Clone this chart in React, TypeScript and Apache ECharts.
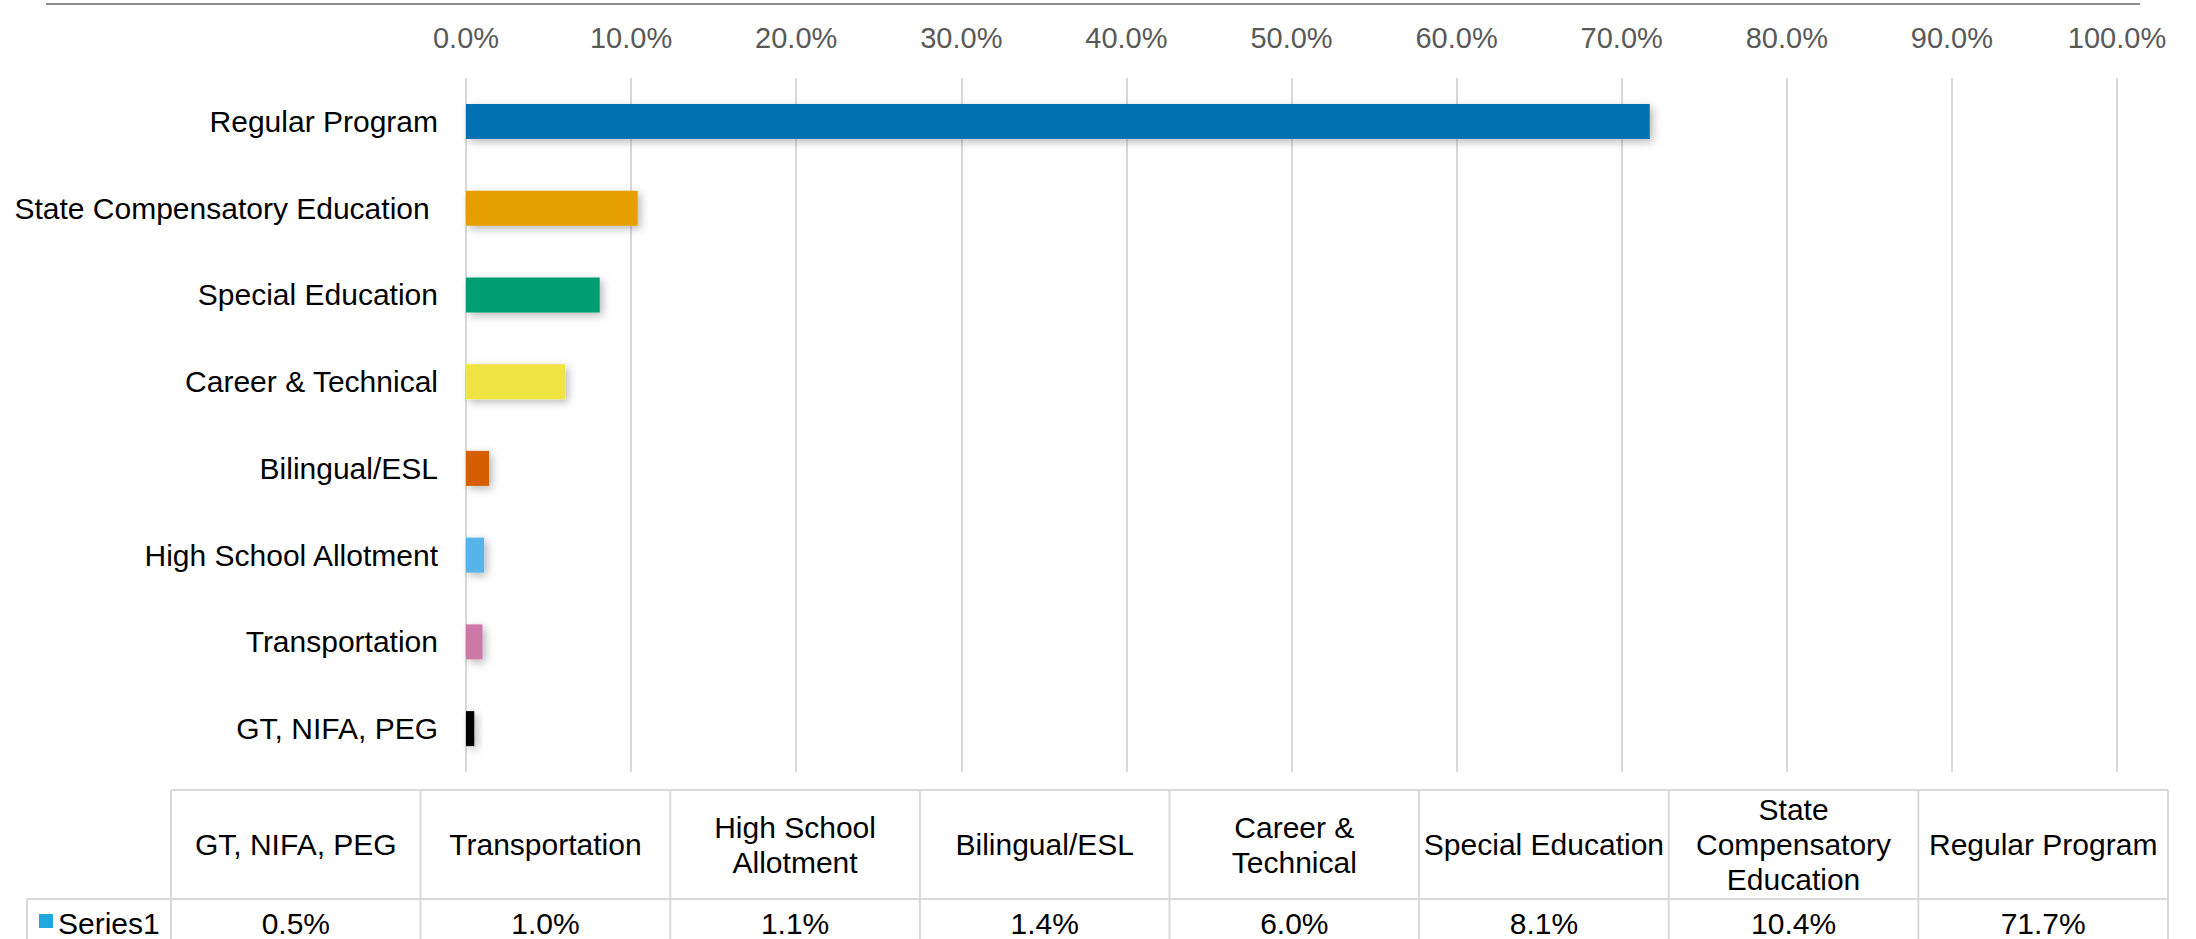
import React, { useEffect, useRef } from "react";
import * as echarts from "echarts";

const categories = [
  "GT, NIFA, PEG",
  "Transportation",
  "High School Allotment",
  "Bilingual/ESL",
  "Career & Technical",
  "Special Education",
  "State Compensatory Education ",
  "Regular Program",
];
const values = [0.5, 1.0, 1.1, 1.4, 6.0, 8.1, 10.4, 71.7];
const barColors = [
  "#000000",
  "#CC79A7",
  "#56B4E9",
  "#D55E00",
  "#F0E442",
  "#009E73",
  "#E69F00",
  "#0072B2",
];
const tableHeaders = [
  "GT, NIFA, PEG",
  "Transportation",
  "High School\nAllotment",
  "Bilingual/ESL",
  "Career &\nTechnical",
  "Special Education",
  "State\nCompensatory\nEducation",
  "Regular Program",
];
const seriesName = "Series1";

const FONT = "'Liberation Sans', Arial, sans-serif";

export default function App() {
  const ref = useRef<HTMLDivElement>(null);
  useEffect(() => {
    if (!ref.current) return;
    const chart = echarts.init(ref.current, undefined, { renderer: "svg" });

    const tableLeft = 171;
    const tableRight = 2168;
    const colW = (tableRight - tableLeft) / categories.length;
    const tableTop = 790;
    const rowDiv = 899;
    const tableBottom = 945;
    const lineStyle = { stroke: "#d9d9d9", lineWidth: 2 };

    const graphics: any[] = [];
    graphics.push({
      type: "line",
      shape: { x1: 46, y1: 4, x2: 2140, y2: 4 },
      style: { stroke: "#8c8c8c", lineWidth: 2 },
      silent: true,
    });
    graphics.push({
      type: "line",
      shape: { x1: tableLeft, y1: tableTop, x2: tableRight, y2: tableTop },
      style: lineStyle,
    });
    graphics.push({
      type: "line",
      shape: { x1: 27, y1: rowDiv, x2: tableRight, y2: rowDiv },
      style: lineStyle,
    });
    graphics.push({
      type: "line",
      shape: { x1: 27, y1: rowDiv, x2: 27, y2: tableBottom },
      style: lineStyle,
    });
    for (let i = 0; i <= categories.length; i++) {
      const x = tableLeft + i * colW;
      graphics.push({
        type: "line",
        shape: { x1: x, y1: tableTop, x2: x, y2: tableBottom },
        style: lineStyle,
      });
    }
    tableHeaders.forEach((h, i) => {
      graphics.push({
        type: "text",
        x: tableLeft + (i + 0.5) * colW,
        y: (tableTop + rowDiv) / 2,
        style: {
          text: h,
          fill: "#000",
          font: `30px ${FONT}`,
          align: "center",
          verticalAlign: "middle",
          lineHeight: 35,
        },
      });
      graphics.push({
        type: "text",
        x: tableLeft + (i + 0.5) * colW,
        y: 923,
        style: {
          text: values[i].toFixed(1) + "%",
          fill: "#000",
          font: `30px ${FONT}`,
          align: "center",
          verticalAlign: "middle",
        },
      });
    });
    graphics.push({
      type: "rect",
      shape: { x: 39, y: 914, width: 14, height: 14 },
      style: { fill: "#1FA8E0" },
    });
    graphics.push({
      type: "text",
      x: 58,
      y: 923,
      style: {
        text: seriesName,
        fill: "#000",
        font: `30px ${FONT}`,
        align: "left",
        verticalAlign: "middle",
      },
    });

    chart.setOption({
      animation: false,
      backgroundColor: "#ffffff",
      grid: { left: 466, right: 79, top: 78, bottom: 167, containLabel: false },
      xAxis: {
        type: "value",
        position: "top",
        min: 0,
        max: 100,
        interval: 10,
        axisLine: { show: false },
        axisTick: { show: false },
        axisLabel: {
          formatter: (v: number) => v.toFixed(1) + "%",
          color: "#595959",
          fontSize: 29,
          fontFamily: FONT,
          margin: 26,
        },
        splitLine: { show: true, lineStyle: { color: "#d9d9d9", width: 2 } },
      },
      yAxis: {
        type: "category",
        data: categories,
        axisLine: { show: false },
        axisTick: { show: false },
        axisLabel: {
          color: "#000",
          fontSize: 30,
          fontFamily: FONT,
          margin: 28,
        },
        splitLine: { show: false },
      },
      series: [
        {
          type: "bar",
          name: seriesName,
          barWidth: 35,
          data: values.map((v, i) => ({
            value: v,
            itemStyle: { color: barColors[i] },
          })),
          itemStyle: {
            shadowBlur: 8,
            shadowColor: "rgba(0,0,0,0.28)",
            shadowOffsetX: 3,
            shadowOffsetY: 3,
          },
        },
      ],
      graphic: graphics,
    });
    return () => chart.dispose();
  }, []);
  return (
    <div
      ref={ref}
      style={{ position: "fixed", left: 0, top: 0, width: 2196, height: 939 }}
    />
  );
}
